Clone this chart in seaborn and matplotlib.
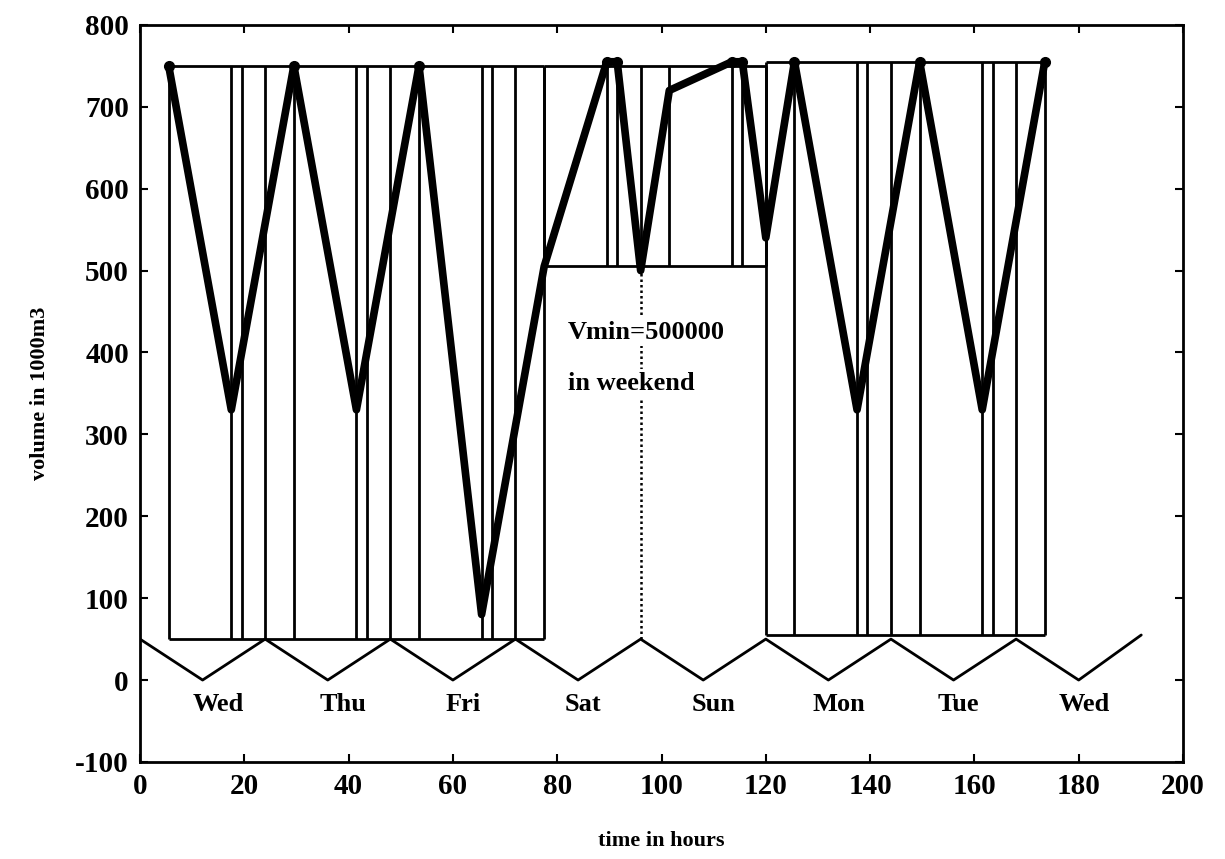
import numpy as np
import pandas as pd
import matplotlib
matplotlib.use("Agg")
import matplotlib.pyplot as plt
import seaborn as sns

# reservoir volume (thick line), vertices
vol_t = [5.5, 17.5, 29.5, 41.5, 53.5, 65.5, 77.5, 89.5, 91.5, 96, 101.5,
         113.5, 115.5, 120, 125.5, 137.5, 149.5, 161.5, 173.5]
vol_v = [750, 330, 750, 330, 750, 80, 505, 755, 755, 500, 720,
         755, 755, 540, 755, 330, 755, 330, 755]

# daily demand pattern (zigzag at the bottom)
dem_t = [0, 12, 24, 36, 48, 60, 72, 84, 96, 108, 120, 132, 144, 156, 168, 180, 192]
dem_v = [50, 0, 50, 0, 50, 0, 50, 0, 50, 0, 50, 0, 50, 0, 50, 0, 55]

# pump schedule blocks: start, end, low, high, inner switching times
blk_start = [5.5, 77.5, 120]
blk_end = [77.5, 120, 173.5]
blk_low = [50, 505, 55]
blk_high = [750, 750, 755]
blk_switch = [
    [17.5, 19.5, 24, 29.5, 41.5, 43.5, 48, 53.5, 65.5, 67.5, 72],
    [89.5, 91.5, 96, 101.5, 113.5, 115.5],
    [125.5, 137.5, 139.5, 144, 149.5, 161.5, 163.5, 168],
]

days = ["Wed", "Thu", "Fri", "Sat", "Sun", "Mon", "Tue", "Wed"]
day_pos = [15, 39, 62, 85, 110, 134, 157, 181]

vmin_t = 96
vmin_v = 500

sns.set_style("ticks")
plt.rcParams["font.family"] = ["Liberation Serif", "DejaVu Serif"]
plt.rcParams["font.weight"] = "bold"
plt.rcParams["axes.unicode_minus"] = False
for k in ["text.color", "axes.labelcolor", "xtick.color", "ytick.color"]:
    plt.rcParams[k] = "black"

fig = plt.figure(figsize=(12.25, 8.59), dpi=100)
ax = fig.add_axes([0.1143, 0.113, 0.8514, 0.858])

# schedule blocks
for s, e, lo, hi, sw in zip(blk_start, blk_end, blk_low, blk_high, blk_switch):
    ax.vlines([s, e] + sw, lo, hi, color="black", lw=2)
    ax.hlines([lo, hi], s, e, color="black", lw=2)

# vmin marker line
ax.vlines(vmin_t, dem_v[8], vmin_v, color="black", lw=1.8, linestyles=(0, (1, 1.2)))

demand = pd.DataFrame({"t": dem_t, "v": dem_v})
sns.lineplot(data=demand, x="t", y="v", sort=False, color="black", lw=2, ax=ax)

volume = pd.DataFrame({"t": vol_t, "v": vol_v})
sns.lineplot(data=volume, x="t", y="v", sort=False, color="black", lw=5.5, ax=ax)
peaks = volume[volume["v"] >= 750]
ax.plot(peaks["t"], peaks["v"], "o", color="black", ms=7)

for d, x in zip(days, day_pos):
    ax.text(x, -30, d, ha="center", va="center", fontsize=19, fontweight="bold")

ax.text(82, 425, "Vmin=500000", ha="left", va="center", fontsize=19,
        fontweight="bold", bbox=dict(facecolor="white", edgecolor="none", pad=2))
ax.text(82, 362, "in weekend", ha="left", va="center", fontsize=19,
        fontweight="bold", bbox=dict(facecolor="white", edgecolor="none", pad=2))

ax.set_xlim(0, 200)
ax.set_ylim(-100, 800)
ax.set_xticks(range(0, 201, 20))
ax.set_yticks(range(-100, 801, 100))
ax.tick_params(direction="in", length=6, width=1.5, top=True, right=True,
               labelsize=21, pad=8)
for lab in ax.get_xticklabels() + ax.get_yticklabels():
    lab.set_fontweight("bold")
for sp in ax.spines.values():
    sp.set_visible(True)
    sp.set_linewidth(2)
    sp.set_color("black")

ax.set_xlabel("time in hours", fontsize=16, fontweight="bold", labelpad=22)
ax.set_ylabel("volume in 1000m3", fontsize=16, fontweight="bold", labelpad=18)

fig.savefig("out.png", dpi=100)
